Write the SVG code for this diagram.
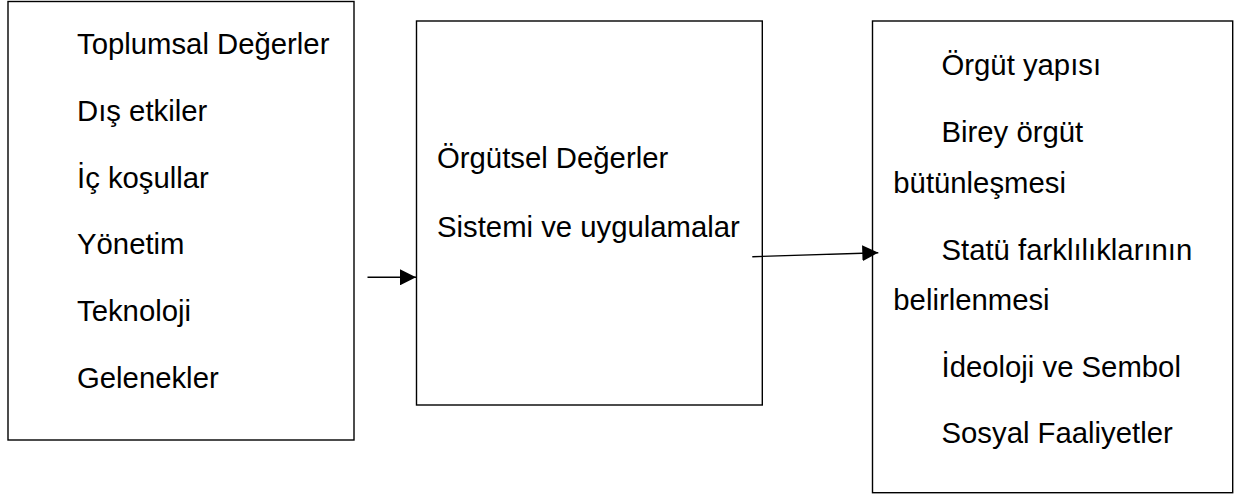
<svg xmlns="http://www.w3.org/2000/svg" width="1245" height="498" viewBox="0 0 1245 498">
<style>
.box{fill:#fff;stroke:#000;stroke-width:1.4}
.t{font-family:"Liberation Sans",Arial,sans-serif;font-size:29.3px;fill:#000}
.c{stroke:#000;stroke-width:1.4;fill:none}
</style>
<defs>
<marker id="ah" viewBox="0 0 16 16" refX="16" refY="8" markerWidth="16" markerHeight="16" markerUnits="userSpaceOnUse" orient="auto">
<path d="M0,0 L16,8 L0,16 Z" fill="#000"/>
</marker>
</defs>
<rect width="1245" height="498" fill="#fff"/>
<g id="node-left">
<rect class="box" x="8" y="1.5" width="346" height="438.5"/>
<text class="t" x="77" y="54.3">Toplumsal Değerler</text>
<text class="t" x="77" y="121">Dış etkiler</text>
<text class="t" x="77" y="187.7">İç koşullar</text>
<text class="t" x="77" y="254.3">Yönetim</text>
<text class="t" x="77" y="321">Teknoloji</text>
<text class="t" x="77" y="387.7">Gelenekler</text>
</g>
<g id="node-middle">
<rect class="box" x="416.5" y="21" width="345.8" height="384"/>
<text class="t" x="437" y="168">Örgütsel Değerler</text>
<text class="t" x="437" y="236.7">Sistemi ve uygulamalar</text>
</g>
<g id="node-right">
<rect class="box" x="872.5" y="21" width="360.2" height="471.7"/>
<text class="t" x="941.5" y="75">Örgüt yapısı</text>
<text class="t" x="941.5" y="141.7">Birey örgüt</text>
<text class="t" x="893.3" y="193.3">bütünleşmesi</text>
<text class="t" x="941.5" y="260">Statü farklılıklarının</text>
<text class="t" x="893.3" y="310">belirlenmesi</text>
<text class="t" x="941.5" y="376.7">İdeoloji ve Sembol</text>
<text class="t" x="941.5" y="443.3">Sosyal Faaliyetler</text>
</g>
<g id="connectors">
<line class="c" x1="367.5" y1="277.3" x2="416" y2="277.3" marker-end="url(#ah)"/>
<line class="c" x1="752.3" y1="256.7" x2="878.3" y2="252.7" marker-end="url(#ah)"/>
</g>
</svg>
